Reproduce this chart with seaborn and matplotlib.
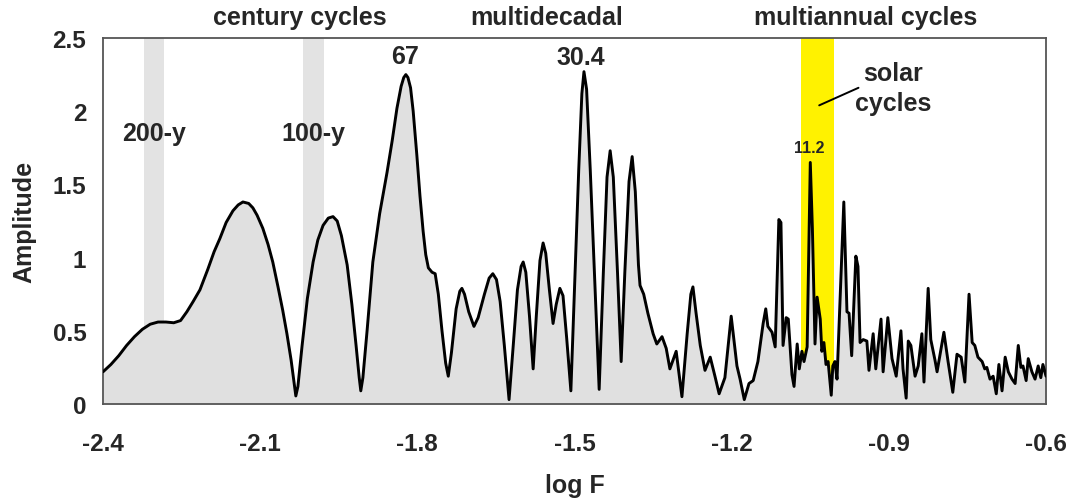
import numpy as np
import pandas as pd
import matplotlib
matplotlib.use("Agg")
import matplotlib.pyplot as plt
import seaborn as sns

# ---------------- data ----------------
log_f = [
    -2.400, -2.385, -2.370, -2.355, -2.340, -2.325, -2.310, -2.295, -2.280, -2.265,
    -2.252, -2.240, -2.228, -2.215, -2.200, -2.188, -2.177, -2.165, -2.152, -2.142,
    -2.133, -2.122, -2.114, -2.106, -2.095, -2.085, -2.076, -2.066, -2.057, -2.049,
    -2.041, -2.035, -2.032, -2.028, -2.020, -2.010, -1.999, -1.990, -1.980, -1.970,
    -1.961, -1.953, -1.945, -1.934, -1.925, -1.917, -1.911, -1.908, -1.904, -1.896,
    -1.885, -1.872, -1.858, -1.848, -1.839, -1.831, -1.826, -1.822, -1.818, -1.813,
    -1.808, -1.801,
    -1.795, -1.789, -1.784, -1.779, -1.772, -1.766, -1.760, -1.753, -1.746, -1.741,
    -1.735, -1.726, -1.719, -1.715, -1.710, -1.702, -1.692, -1.684, -1.672, -1.663,
    -1.656, -1.649, -1.642, -1.634, -1.625, -1.617, -1.609, -1.602, -1.598, -1.593,
    -1.586, -1.579, -1.573, -1.566, -1.560, -1.555, -1.548, -1.541, -1.535, -1.528,
    -1.522, -1.515, -1.507, -1.500, -1.492, -1.486, -1.482, -1.477, -1.470, -1.462,
    -1.453, -1.445, -1.438, -1.432, -1.426, -1.418, -1.411, -1.404, -1.396, -1.390,
    -1.384, -1.378, -1.375, -1.368, -1.360, -1.350, -1.343, -1.333, -1.325, -1.318,
    -1.306, -1.295, -1.285, -1.278, -1.274, -1.268, -1.260, -1.251, -1.241, -1.232,
    -1.224, -1.213, -1.201, -1.190, -1.184, -1.176, -1.167, -1.159, -1.150, -1.140,
    -1.135, -1.131, -1.123, -1.117, -1.110, -1.106, -1.102, -1.096, -1.092, -1.085,
    -1.081, -1.075, -1.071, -1.066, -1.062, -1.056, -1.050, -1.046, -1.043, -1.041,
    -1.037, -1.031, -1.028, -1.024, -1.020, -1.016, -1.010, -1.007, -1.003, -0.999,
    -0.986, -0.980, -0.976, -0.971, -0.963, -0.959, -0.955, -0.949, -0.942, -0.938,
    -0.930, -0.925, -0.915, -0.911, -0.902, -0.894, -0.886, -0.877, -0.873, -0.867,
    -0.863, -0.858, -0.850, -0.844, -0.837, -0.833, -0.825, -0.820, -0.812, -0.808,
    -0.795, -0.787, -0.778, -0.770, -0.762, -0.755, -0.747, -0.741, -0.736, -0.730,
    -0.722, -0.717, -0.713, -0.707, -0.701, -0.695, -0.690, -0.684, -0.678, -0.672,
    -0.665, -0.659, -0.653, -0.648, -0.644, -0.638, -0.634, -0.627, -0.621, -0.615,
    -0.610, -0.606, -0.600,
]
amplitude = [
    0.22, 0.27, 0.33, 0.40, 0.46, 0.51, 0.545, 0.56, 0.56, 0.555,
    0.57, 0.63, 0.70, 0.78, 0.92, 1.04, 1.13, 1.24, 1.32, 1.36,
    1.38, 1.37, 1.34, 1.29, 1.20, 1.09, 0.97, 0.80, 0.64, 0.48,
    0.30, 0.14, 0.055, 0.12, 0.40, 0.72, 0.97, 1.12, 1.22, 1.27,
    1.28, 1.25, 1.15, 0.95, 0.68, 0.40, 0.18, 0.09, 0.18, 0.50,
    0.97, 1.30, 1.58, 1.80, 2.02, 2.17, 2.23, 2.25, 2.23, 2.16,
    2.00, 1.70,
    1.42, 1.18, 1.02, 0.93, 0.90, 0.89, 0.75, 0.50, 0.28, 0.19,
    0.35, 0.65, 0.77, 0.79, 0.75, 0.63, 0.53, 0.59, 0.75, 0.86,
    0.89, 0.85, 0.70, 0.40, 0.03, 0.40, 0.78, 0.94, 0.97, 0.90,
    0.60, 0.24, 0.60, 0.98, 1.10, 1.03, 0.78, 0.55, 0.68, 0.79,
    0.74, 0.45, 0.09, 0.80, 1.60, 2.12, 2.27, 2.15, 1.60, 0.90,
    0.10, 0.90, 1.55, 1.73, 1.55, 0.90, 0.29, 0.90, 1.52, 1.69,
    1.45, 0.95, 0.81, 0.75, 0.62, 0.48, 0.41, 0.46, 0.38, 0.24,
    0.36, 0.05, 0.48, 0.75, 0.80, 0.62, 0.40, 0.23, 0.32, 0.19,
    0.07, 0.18, 0.60, 0.26, 0.17, 0.03, 0.14, 0.16, 0.29, 0.55,
    0.65, 0.53, 0.49, 0.39, 1.26, 1.24, 0.40, 0.59, 0.58, 0.20,
    0.12, 0.41, 0.24, 0.36, 0.29, 0.39, 1.65, 1.20, 0.74, 0.41,
    0.73, 0.58, 0.36, 0.42, 0.27, 0.29, 0.06, 0.26, 0.29, 0.17,
    1.38, 0.63, 0.62, 0.33, 1.01, 0.94, 0.42, 0.44, 0.43, 0.23,
    0.48, 0.24, 0.58, 0.22, 0.59, 0.31, 0.19, 0.50, 0.24, 0.04,
    0.43, 0.40, 0.19, 0.26, 0.48, 0.15, 0.79, 0.44, 0.30, 0.22,
    0.49, 0.29, 0.08, 0.34, 0.32, 0.15, 0.75, 0.42, 0.40, 0.32,
    0.29, 0.24, 0.25, 0.17, 0.19, 0.07, 0.27, 0.09, 0.32, 0.22,
    0.17, 0.14, 0.40, 0.25, 0.26, 0.16, 0.31, 0.22, 0.17, 0.26,
    0.18, 0.27, 0.19,
]

grey_bands = [(-2.322, -2.284), (-2.018, -1.978)]
solar_band = (-1.067, -1.004)

x_ticks = [-2.4, -2.1, -1.8, -1.5, -1.2, -0.9, -0.6]
x_tick_labels = ["-2.4", "-2.1", "-1.8", "-1.5", "-1.2", "-0.9", "-0.6"]
x_minor = [-2.4, -2.3, -2.2, -2.1, -2.0, -1.9, -1.8, -1.7, -1.6, -1.5, -1.4,
           -1.3, -1.2, -1.1, -1.0, -0.9, -0.8, -0.7, -0.6]
y_ticks = [0, 0.5, 1.0, 1.5, 2.0, 2.5]
y_tick_labels = ["0", "0.5", "1", "1.5", "2", "2.5"]

df = pd.DataFrame({"logF": log_f, "Amplitude": amplitude})

# ---------------- styling ----------------
sns.set_style("white")
plt.rcParams["font.family"] = ["Liberation Sans", "DejaVu Sans"]
plt.rcParams["font.weight"] = "bold"

fig = plt.figure(figsize=(10.71, 5.02), dpi=100)
ax = fig.add_axes([0.0962, 0.1932, 0.8805, 0.7291])

for lo, hi in grey_bands:
    ax.axvspan(lo, hi, color="#e3e3e3", lw=0, zorder=0)
ax.axvspan(solar_band[0], solar_band[1], color="#fff200", lw=0, zorder=0)

ax.fill_between(df["logF"], df["Amplitude"], 0, color="#e0e0e0", lw=0, zorder=1)
sns.lineplot(data=df, x="logF", y="Amplitude", sort=False, color="black",
             lw=2.1, ax=ax, zorder=3)

ax.set_xlim(-2.4, -0.6)
ax.set_ylim(0, 2.5)
ax.set_xticks(x_ticks)
ax.set_xticklabels(x_tick_labels)
ax.set_xticks(x_minor, minor=True)
ax.set_yticks(y_ticks)
ax.set_yticklabels(y_tick_labels)
ax.tick_params(axis="both", which="both", direction="out", length=6,
               width=1.0, color="#333333", labelsize=17.5, pad=6)
ax.tick_params(axis="x", which="major", pad=14)
for lab in ax.get_xticklabels() + ax.get_yticklabels():
    lab.set_fontweight("bold")

for s in ax.spines.values():
    s.set_visible(True)
    s.set_color("#555555")
    s.set_linewidth(1.3)

ax.set_xlabel("log F", fontsize=18, fontweight="bold", labelpad=13)
ax.set_ylabel("Amplitude", fontsize=18, fontweight="bold", labelpad=12)

# top group labels
fig.text(300 / 1071, 1 - 18 / 502, "century cycles", ha="center", va="center",
         fontsize=18, fontweight="bold")
fig.text(547 / 1071, 1 - 18 / 502, "multidecadal", ha="center", va="center",
         fontsize=18, fontweight="bold")
fig.text(866 / 1071, 1 - 18 / 502, "multiannual cycles", ha="center", va="center",
         fontsize=18, fontweight="bold")

# in-plot annotations
ax.text(-1.824, 2.38, "67", ha="center", va="center", fontsize=18, fontweight="bold")
ax.text(-1.488, 2.37, "30.4", ha="center", va="center", fontsize=18, fontweight="bold")
ax.text(-2.303, 1.85, "200-y", ha="center", va="center", fontsize=18, fontweight="bold")
ax.text(-1.999, 1.85, "100-y", ha="center", va="center", fontsize=18, fontweight="bold")
ax.text(-1.052, 1.75, "11.2", ha="center", va="center", fontsize=11.5, fontweight="bold")
ax.text(-0.892, 2.16, "solar\ncycles", ha="center", va="center", fontsize=18,
        fontweight="bold", linespacing=1.3)
ax.plot([-1.033, -0.958], [2.04, 2.16], color="black", lw=1.4, zorder=4)

fig.savefig("out.png", dpi=100)
